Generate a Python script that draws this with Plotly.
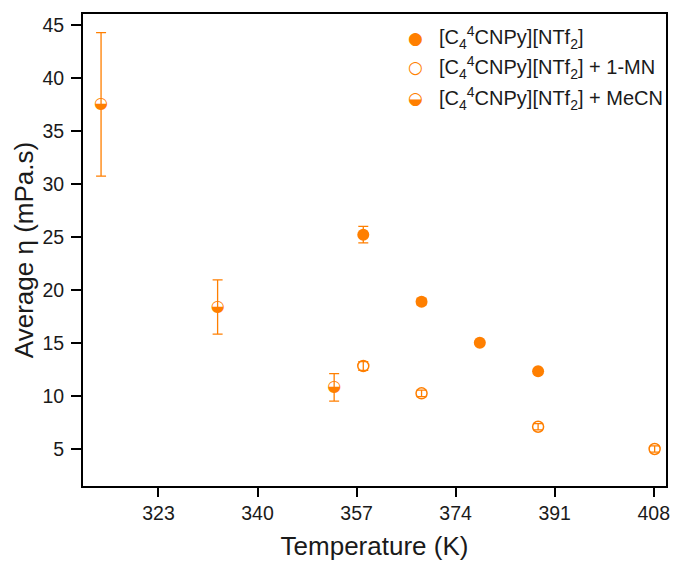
import plotly.graph_objects as go

ORANGE = "#FF7F00"

# Data
t_pure = [358.15, 368.15, 378.15, 388.15]
eta_pure = [25.22, 18.9, 15.03, 12.33]
err_pure = [0.78, 0.3, 0.15, 0.15]

t_mn = [358.15, 368.15, 388.15, 408.15]
eta_mn = [12.83, 10.25, 7.1, 5.0]
err_mn = [0.42, 0.3, 0.3, 0.3]

t_mecn = [313.15, 333.15, 353.15]
eta_mecn = [37.52, 18.4, 10.82]
err_mecn = [6.77, 2.56, 1.3]

x_ticks = [323, 340, 357, 374, 391, 408]
y_ticks = [5, 10, 15, 20, 25, 30, 35, 40, 45]

legend_names = [
    "[C<sub>4</sub><sup>4</sup>CNPy][NTf<sub>2</sub>]",
    "[C<sub>4</sub><sup>4</sup>CNPy][NTf<sub>2</sub>] + 1-MN",
    "[C<sub>4</sub><sup>4</sup>CNPy][NTf<sub>2</sub>] + MeCN",
]
legend_glyphs = ["●", "○", "◒"]

FONT = "Liberation Sans, Arial, sans-serif"
TXT = "#1a1a1a"

fig = go.Figure()

err_style = dict(type="data", visible=True, color=ORANGE, thickness=1.3, width=5)

fig.add_trace(go.Scatter(
    x=t_pure, y=eta_pure, mode="markers", showlegend=False,
    marker=dict(symbol="circle", size=12, color=ORANGE),
    error_y=dict(array=err_pure, **err_style),
))
fig.add_trace(go.Scatter(
    x=t_mn, y=eta_mn, mode="markers", showlegend=False,
    marker=dict(symbol="circle-open", size=11, color=ORANGE, line=dict(width=1.5, color=ORANGE)),
    error_y=dict(array=err_mn, **err_style),
))
# MeCN: error bars with invisible markers, then half-filled glyph as text
fig.add_trace(go.Scatter(
    x=t_mecn, y=eta_mecn, mode="markers", showlegend=False,
    marker=dict(symbol="circle", size=12, color="rgba(0,0,0,0)"),
    error_y=dict(array=err_mecn, **err_style),
))
fig.add_trace(go.Scatter(
    x=t_mecn, y=eta_mecn, mode="text", showlegend=False,
    text=["◒"] * len(t_mecn), textposition="middle center",
    textfont=dict(family="DejaVu Sans", size=16, color=ORANGE),
    hoverinfo="skip",
))

# Legend as annotations
leg_y = [0.950, 0.887, 0.821]
for g, name, yy in zip(legend_glyphs, legend_names, leg_y):
    fig.add_annotation(x=0.571, y=yy, xref="paper", yref="paper", text=g,
                       showarrow=False, xanchor="center", yanchor="middle",
                       font=dict(family="DejaVu Sans", size=17, color=ORANGE))
    fig.add_annotation(x=0.608, y=yy, xref="paper", yref="paper", text=name,
                       showarrow=False, xanchor="left", yanchor="middle",
                       font=dict(family=FONT, size=20, color=TXT))

fig.update_layout(
    width=679, height=565,
    margin=dict(l=83, r=9, t=14, b=79),
    paper_bgcolor="white", plot_bgcolor="white",
    font=dict(family=FONT, color=TXT),
    showlegend=False,
)
fig.update_xaxes(
    range=[310.05, 410.1], tickvals=x_ticks, ticktext=[str(v) for v in x_ticks],
    showgrid=False, zeroline=False,
    showline=True, linecolor="black", linewidth=2, mirror=True,
    ticks="outside", ticklen=9, tickwidth=2, tickcolor="black",
    tickfont=dict(size=19.5, color=TXT), ticklabelstandoff=0,
    title=dict(text="Temperature (K)", font=dict(size=26, color=TXT), standoff=13),
)
fig.update_yaxes(
    range=[1.51, 46.04], tickvals=y_ticks, ticktext=[str(v) for v in y_ticks],
    showgrid=False, zeroline=False,
    showline=True, linecolor="black", linewidth=2, mirror=True,
    ticks="outside", ticklen=10, tickwidth=2, tickcolor="black",
    tickfont=dict(size=19.5, color=TXT), ticklabelstandoff=3,
    title=dict(text="Average η (mPa.s)", font=dict(size=26, color=TXT), standoff=1),
)

fig.write_html("out.html")
